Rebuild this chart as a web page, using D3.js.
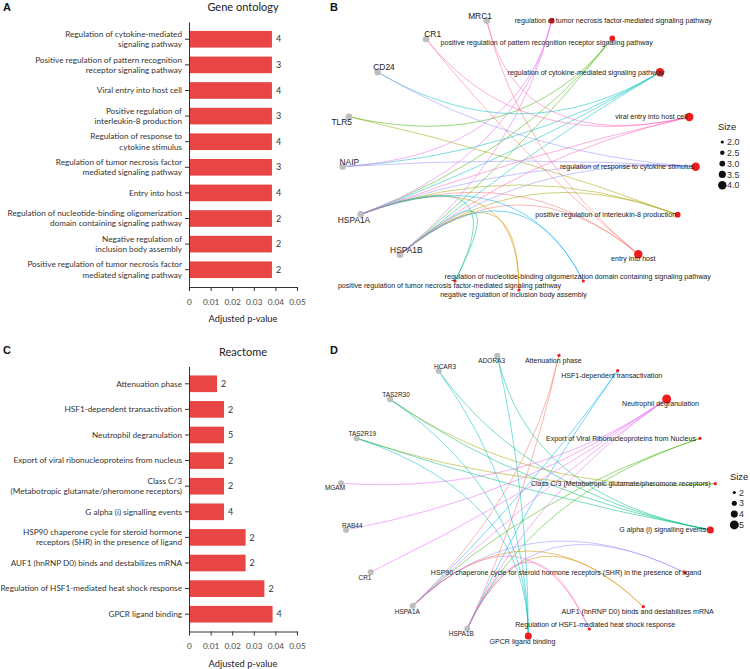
<!DOCTYPE html>
<html>
<head>
<meta charset="utf-8">
<script src="https://cdn.jsdelivr.net/npm/d3@7"></script>
<style>
  body { margin: 0; background: #fff; }
  svg { display: block; }
</style>
</head>
<body>
<svg id="chart" width="750" height="669"></svg>
<script>
// ---- data: bar panels ----
var goTerms = [
  "Regulation of cytokine-mediated\nsignaling pathway",
  "Positive regulation of pattern recognition\nreceptor signaling pathway",
  "Viral entry into host cell",
  "Positive regulation of\ninterleukin-8 production",
  "Regulation of response to\ncytokine stimulus",
  "Regulation of tumor necrosis factor\nmediated signaling pathway",
  "Entry into host",
  "Regulation of nucleotide-binding oligomerization\ndomain containing signaling pathway",
  "Negative regulation of\ninclusion body assembly",
  "Positive regulation of tumor necrosis factor\nmediated signaling pathway"
];
var goPadj = [0.0384, 0.0384, 0.0384, 0.0384, 0.0384, 0.0384, 0.0384, 0.0384, 0.0384, 0.0384];
var goCounts = [4, 3, 4, 3, 4, 3, 4, 2, 2, 2];

var reTerms = [
  "Attenuation phase",
  "HSF1-dependent transactivation",
  "Neutrophil degranulation",
  "Export of viral ribonucleoproteins from nucleus",
  "Class C/3\n(Metabotropic glutamate/pheromone receptors)",
  "G alpha (i) signalling events",
  "HSP90 chaperone cycle for steroid hormone\nreceptors (SHR) in the presence of ligand",
  "AUF1 (hnRNP D0) binds and destabilizes mRNA",
  "Regulation of HSF1-mediated heat shock response",
  "GPCR ligand binding"
];
var rePadj = [0.0130, 0.0162, 0.0162, 0.0162, 0.0162, 0.0162, 0.0262, 0.0262, 0.0349, 0.0387];
var reCounts = [2, 2, 5, 2, 2, 4, 2, 2, 2, 4];

var pTicks = [0, 0.01, 0.02, 0.03, 0.04, 0.05];

// ---- data: network panels (layout coords, label nudges) ----
var goGenes = [
  {name: "MRC1",   x: 156.7, y: 20.7,  dx: -6.7, dy: -5},
  {name: "CR1",    x: 96,    y: 39,    dx: 6.7,  dy: -5.3},
  {name: "CD24",   x: 47.7,  y: 72.3,  dx: 6.3,  dy: -5},
  {name: "TLR5",   x: 19,    y: 116.7, dx: -7.3, dy: 5.6},
  {name: "NAIP",   x: 12.7,  y: 166.7, dx: 6.6,  dy: -5},
  {name: "HSPA1A", x: 30.7,  y: 214.3, dx: -6.7, dy: 5.7},
  {name: "HSPA1B", x: 70,    y: 254.7, dx: 6.3,  dy: -5}
];
var goNet = [
  {name: "entry into host", x: 308.3, y: 254.3, dx: -5, dy: 4.7,
   genes: ["MRC1", "CR1", "HSPA1A", "HSPA1B"]},
  {name: "negative regulation of inclusion body assembly", x: 189, y: 290, dx: -5.5, dy: 4.3,
   genes: ["HSPA1A", "HSPA1B"]},
  {name: "positive regulation of interleukin-8 production", x: 347.7, y: 214.7, dx: -72, dy: 0,
   genes: ["TLR5", "HSPA1A", "HSPA1B"]},
  {name: "positive regulation of pattern recognition receptor signaling pathway", x: 282.3, y: 38.3, dx: -65.6, dy: 4.4,
   genes: ["TLR5", "HSPA1A", "HSPA1B"]},
  {name: "positive regulation of tumor necrosis factor-mediated signaling pathway", x: 125, y: 281, dx: -5.5, dy: 4.3,
   genes: ["HSPA1A", "HSPA1B"]},
  {name: "regulation of cytokine-mediated signaling pathway", x: 330, y: 72.3, dx: -74, dy: 0,
   genes: ["CD24", "NAIP", "HSPA1A", "HSPA1B"]},
  {name: "regulation of nucleotide-binding oligomerization domain containing signaling pathway", x: 253.3, y: 281, dx: -5.6, dy: -4.7,
   genes: ["HSPA1A", "HSPA1B"]},
  {name: "regulation of response to cytokine stimulus", x: 365.7, y: 166.7, dx: -68.7, dy: 0,
   genes: ["CD24", "NAIP", "HSPA1A", "HSPA1B"]},
  {name: "regulation of tumor necrosis factor-mediated signaling pathway", x: 221.7, y: 20.7, dx: 61.6, dy: 0,
   genes: ["NAIP", "HSPA1A", "HSPA1B"]},
  {name: "viral entry into host cell", x: 359.3, y: 117, dx: -38, dy: 0,
   genes: ["MRC1", "CR1", "HSPA1A", "HSPA1B"]}
];
var goSizeLegend = [2.0, 2.5, 3.0, 3.5, 4.0];

var reGenes = [
  {name: "ADORA3",  x: 167.3, y: 25.7,  dx: -5.6, dy: 4.6},
  {name: "HCAR3",   x: 108.7, y: 41,    dx: 6.3,  dy: -4.7},
  {name: "TAS2R30", x: 60,    y: 69.3,  dx: 6,    dy: -4.3},
  {name: "TAS2R19", x: 26.7,  y: 108.3, dx: 5.6,  dy: -4.3},
  {name: "MGAM",    x: 11,    y: 153.3, dx: -6,   dy: 4.7},
  {name: "RAB44",   x: 16,    y: 200,   dx: 6.3,  dy: -4.7},
  {name: "CR1",     x: 40.7,  y: 242.3, dx: -5.7, dy: 5},
  {name: "HSPA1A",  x: 82.7,  y: 276,   dx: -5.4, dy: 5.3},
  {name: "HSPA1B",  x: 137.3, y: 298.7, dx: -6,   dy: 5}
];
var reNet = [
  {name: "Attenuation phase", x: 229, y: 25.3, dx: -5.7, dy: 5,
   genes: ["HSPA1A", "HSPA1B"]},
  {name: "AUF1 (hnRNP D0) binds and destabilizes mRNA", x: 313.3, y: 276.7, dx: -5.6, dy: 4.6,
   genes: ["HSPA1A", "HSPA1B"]},
  {name: "Class C/3 (Metabotropic glutamate/pheromone receptors)", x: 385.3, y: 153.7, dx: -94.5, dy: 0,
   genes: ["TAS2R30", "TAS2R19"]},
  {name: "Export of Viral Ribonucleoproteins from Nucleus", x: 370, y: 108.3, dx: -79, dy: 0,
   genes: ["HSPA1A", "HSPA1B"]},
  {name: "G alpha (i) signalling events", x: 380.3, y: 200, dx: -47.5, dy: 0,
   genes: ["ADORA3", "HCAR3", "TAS2R30", "TAS2R19"]},
  {name: "GPCR ligand binding", x: 198.3, y: 306, dx: -5.8, dy: 5.3,
   genes: ["ADORA3", "HCAR3", "TAS2R30", "TAS2R19"]},
  {name: "HSF1-dependent transactivation", x: 287.7, y: 40.7, dx: -6, dy: 4.6,
   genes: ["HSPA1A", "HSPA1B"]},
  {name: "HSP90 chaperone cycle for steroid hormone receptors (SHR) in the presence of ligand", x: 355, y: 242.7, dx: -119, dy: 0,
   genes: ["HSPA1A", "HSPA1B"]},
  {name: "Neutrophil degranulation", x: 336.7, y: 69, dx: -6.2, dy: 5,
   genes: ["MGAM", "RAB44", "CR1", "HSPA1A", "HSPA1B"]},
  {name: "Regulation of HSF1-mediated heat shock response", x: 259.3, y: 299, dx: 5.9, dy: -4.7,
   genes: ["HSPA1A", "HSPA1B"]}
];
var reSizeLegend = [2, 3, 4, 5];

var hue = ["#F8766D", "#D89000", "#A3A500", "#39B600", "#00BF7D",
           "#00BFC4", "#00B0F6", "#9590FF", "#E76BF3", "#FF62BC"];

var svg = d3.select("#chart");
var barFont = "Lato, 'Noto Sans', sans-serif";
var netFont = "'Liberation Sans', Arial, sans-serif";

function panelLetter(txt, x, y) {
  svg.append("text").attr("x", x).attr("y", y)
    .attr("font-family", netFont).attr("font-weight", "bold")
    .attr("font-size", 11).attr("fill", "#111").text(txt);
}

function barPanel(top, title, terms, padj, counts) {
  var g = svg.append("g").attr("transform", "translate(0," + top + ")");
  var x = d3.scaleLinear().domain([0, 0.05]).range([189, 297]);
  var y = d3.scaleBand().domain(terms).range([22, 287])
    .paddingInner(0.35).paddingOuter(0.35);

  g.append("text").attr("x", 243).attr("y", 11)
    .attr("text-anchor", "middle").attr("font-family", barFont)
    .attr("font-size", 11).attr("fill", "#222").text(title);

  g.selectAll("rect.bar").data(terms).enter().append("rect")
    .attr("class", "bar")
    .attr("x", x(0))
    .attr("y", function(d) { return y(d); })
    .attr("width", function(d, i) { return x(padj[i]) - x(0); })
    .attr("height", y.bandwidth())
    .attr("fill", "#E84545");

  g.selectAll("text.cnt").data(terms).enter().append("text")
    .attr("class", "cnt")
    .attr("x", function(d, i) { return x(padj[i]) + 4; })
    .attr("y", function(d) { return y(d) + y.bandwidth() / 2; })
    .attr("dy", "0.35em")
    .attr("font-family", barFont).attr("font-size", 9).attr("fill", "#333")
    .text(function(d, i) { return counts[i]; });

  var yAxis = g.append("g").attr("transform", "translate(189,0)")
    .call(d3.axisLeft(y).tickSize(4).tickSizeOuter(0).tickFormat(""));
  yAxis.select(".domain").attr("stroke", "#333");
  yAxis.selectAll(".tick line").attr("stroke", "#333");

  g.selectAll("text.cat").data(terms).enter().append("text")
    .attr("class", "cat")
    .attr("text-anchor", "end")
    .attr("font-family", barFont).attr("font-size", 8.2).attr("fill", "#333")
    .each(function(d) {
      var lines = d.split("\n");
      var cy = y(d) + y.bandwidth() / 2;
      var t = d3.select(this);
      lines.forEach(function(l, k) {
        t.append("tspan").attr("x", 182)
          .attr("y", cy + (k - (lines.length - 1) / 2) * 10.2)
          .attr("dy", "0.35em").text(l);
      });
    });

  var xAxis = g.append("g").attr("transform", "translate(0,287)")
    .call(d3.axisBottom(x).tickValues(pTicks).tickSize(4).tickSizeOuter(0).tickPadding(8)
      .tickFormat(function(d) { return d === 0 ? "0" : d3.format(".2f")(d); }));
  xAxis.select(".domain").attr("stroke", "#333");
  xAxis.selectAll(".tick line").attr("stroke", "#333");
  xAxis.selectAll(".tick text").attr("font-family", barFont)
    .attr("font-size", 8.3).attr("fill", "#4d4d4d");

  g.append("text").attr("x", 243).attr("y", 322)
    .attr("text-anchor", "middle").attr("font-family", barFont)
    .attr("font-size", 9.3).attr("fill", "#222").text("Adjusted p-value");
}

function netPanel(ox, oy, genes, net, sizeDomain, rRange, legendVals, opt) {
  var sx = d3.scaleLinear().domain([0, 420]).range([ox, ox + 420]);
  var sy = d3.scaleLinear().domain([0, 339]).range([oy, oy + 339]);
  var r = d3.scaleLinear().domain(sizeDomain).range(rRange);
  var g = svg.append("g");

  var gpos = {};
  genes.forEach(function(d) { gpos[d.name] = d; });
  var all = genes.concat(net);
  var cx = (d3.min(all, function(d) { return d.x; }) + d3.max(all, function(d) { return d.x; })) / 2;
  var cy = (d3.min(all, function(d) { return d.y; }) + d3.max(all, function(d) { return d.y; })) / 2;

  var links = [];
  net.forEach(function(t, i) {
    t.genes.forEach(function(gn) { links.push({term: t, gene: gpos[gn], color: hue[i]}); });
  });

  g.selectAll("path.edge").data(links).enter().append("path")
    .attr("class", "edge")
    .attr("fill", "none")
    .attr("stroke", function(d) { return d.color; })
    .attr("stroke-width", 0.7)
    .attr("stroke-opacity", 0.75)
    .attr("d", function(d) {
      var p = d3.path();
      p.moveTo(sx(d.gene.x), sy(d.gene.y));
      p.quadraticCurveTo(sx(cx), sy(cy), sx(d.term.x), sy(d.term.y));
      return p.toString();
    });

  g.selectAll("circle.gene").data(genes).enter().append("circle")
    .attr("class", "gene")
    .attr("cx", function(d) { return sx(d.x); })
    .attr("cy", function(d) { return sy(d.y); })
    .attr("r", opt.geneR).attr("fill", "#BEBEBE");

  g.selectAll("circle.term").data(net).enter().append("circle")
    .attr("class", "term")
    .attr("cx", function(d) { return sx(d.x); })
    .attr("cy", function(d) { return sy(d.y); })
    .attr("r", function(d) { return r(d.genes.length); })
    .attr("fill", "#EE1D1D");

  g.selectAll("text.glab").data(genes).enter().append("text")
    .attr("class", "glab")
    .attr("x", function(d) { return sx(d.x + d.dx); })
    .attr("y", function(d) { return sy(d.y + d.dy); })
    .attr("dy", "0.35em").attr("text-anchor", "middle")
    .attr("font-family", netFont).attr("font-size", opt.geneFont).attr("fill", "#222")
    .text(function(d) { return d.name; });

  g.selectAll("text.tlab").data(net).enter().append("text")
    .attr("class", "tlab")
    .attr("x", function(d) { return sx(d.x + d.dx); })
    .attr("y", function(d) { return sy(d.y + d.dy); })
    .attr("dy", "0.35em").attr("text-anchor", "middle")
    .attr("font-family", netFont).attr("font-size", opt.termFont).attr("fill", "#222")
    .text(function(d) { return d.name; });

  // size legend
  var lg = g.append("g");
  lg.append("text").attr("x", opt.legX).attr("y", opt.legY)
    .attr("font-family", netFont).attr("font-size", 9.4).attr("fill", "#222").text("Size");
  lg.selectAll("circle").data(legendVals).enter().append("circle")
    .attr("cx", opt.legX + 4.3)
    .attr("cy", function(d, i) { return opt.legY + 12.5 + i * 10.8; })
    .attr("r", function(d) { return r(d); })
    .attr("fill", "#111");
  lg.selectAll("text.lv").data(legendVals).enter().append("text")
    .attr("class", "lv")
    .attr("x", opt.legX + 9)
    .attr("y", function(d, i) { return opt.legY + 12.5 + i * 10.8; })
    .attr("dy", "0.35em")
    .attr("font-family", netFont).attr("font-size", 8.9).attr("fill", "#333")
    .text(function(d) { return opt.legFmt(d); });
}

panelLetter("A", 3, 11);
panelLetter("B", 330, 11);
panelLetter("C", 3, 354);
panelLetter("D", 330, 354);

barPanel(0, "Gene ontology", goTerms, goPadj, goCounts);
barPanel(344.5, "Reactome", reTerms, rePadj, reCounts);

netPanel(330, 0, goGenes, goNet, [2, 4], [1.6, 4.2], goSizeLegend,
  {geneR: 3.3, geneFont: 8.4, termFont: 7.1, legX: 718, legY: 129.5,
   legFmt: d3.format(".1f")});
netPanel(330, 330, reGenes, reNet, [2, 5], [1.6, 4.5], reSizeLegend,
  {geneR: 3, geneFont: 6.5, termFont: 7.05, legX: 730, legY: 480,
   legFmt: d3.format("d")});
</script>
</body>
</html>
